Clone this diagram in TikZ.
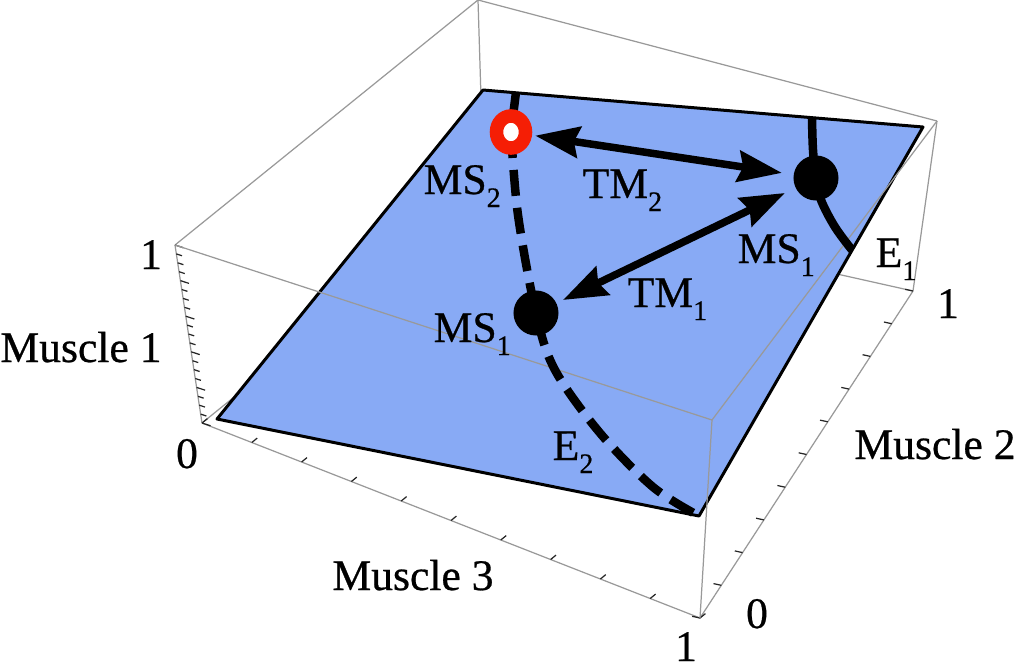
\documentclass[tikz,border=0pt]{standalone}
\usepackage{fontspec}
\setmainfont{Liberation Serif}
\newfontfamily\lserif{Liberation Serif}[FakeBold=0.6]
\usetikzlibrary{arrows.meta,calc,shapes.geometric}
\definecolor{planeblue}{RGB}{136,170,245}
\definecolor{ringred}{RGB}{245,30,5}
\newcommand{\sbs}[1]{\raisebox{-0.13cm}{\fontsize{8}{8}\selectfont #1}}
\begin{document}
\begin{tikzpicture}[x=0.01cm,y=-0.01cm,
  boxedge/.style={draw=gray!80,line width=0.35pt},
  tickmark/.style={draw=gray!30!black,line width=0.35pt},
  lbl/.style={font=\lserif\fontsize{12.4}{14}\selectfont,inner sep=0pt},
  dot/.style={circle,fill=black,minimum size=0.45cm,inner sep=0pt,outer sep=0pt},
  ring/.style={ellipse,draw=ringred,fill=white,line width=0.135cm,minimum width=0.29cm,minimum height=0.32cm,inner sep=0pt,outer sep=0pt},
  curve/.style={line width=0.085cm},
  tm/.style={line width=0.075cm,{Stealth[length=0.44cm,width=0.31cm,inset=0.05cm]}-{Stealth[length=0.44cm,width=0.31cm,inset=0.05cm]}}
]
\useasboundingbox (0,0) rectangle (1018,666);
% box corners
\coordinate (TL) at (175,245);
\coordinate (TB) at (478,0);
\coordinate (TR) at (937,121);
\coordinate (TF) at (712,420);
\coordinate (BL) at (202,423);
\coordinate (BB) at (484,195);
\coordinate (BR) at (913,291);
\coordinate (BF) at (700,618);
% hidden/back edges
\draw[boxedge] (BL) -- (BB) -- (BR);
\draw[boxedge] (TB) -- (BB);
\draw[boxedge] (TL) -- (TB) -- (TR);
\draw[boxedge] (TL) -- (BL);
\draw[boxedge] (TR) -- (BR);
\draw[boxedge] (BL) -- (BF) -- (BR);
% ticks
\foreach \i in {0,...,20}{
  \pgfmathsetmacro\L{ifthenelse(mod(\i,4)==0,9,6)}
  \draw[tickmark] ($(BL)!\i/20!(TL)$) -- ++(0.951*\L,0.31*\L);
}
\foreach \i in {0,...,10}{
  \draw[tickmark] ($(BL)!\i/10!(BF)$) -- ++(5.4,-4.4);
  \draw[tickmark] ($(BF)!\i/10!(BR)$) -- ++(-7.8,-1.7);
}
% plane
\filldraw[fill=planeblue,draw=black,line width=0.03cm,line join=round]
  (217,419) -- (483,90) -- (923,127) -- (699,516) -- cycle;
% front edges over plane
\draw[boxedge] (TL) -- (TF) -- (TR);
\draw[boxedge] (TF) -- (BF);
% points
\coordinate (p2) at (511,132);
\coordinate (p1a) at (536,313);
\coordinate (p1b) at (816,178);
% curves
\draw[curve] (516,92) -- (p2);
\draw[curve,dash pattern=on 0.26cm off 0.12cm]
  plot[smooth,tension=0.55] coordinates {(p2) (518,215) (p1a) (555,370) (600,433) (653,487) (699,516)};
\draw[curve]
  plot[smooth,tension=0.6] coordinates {(812,117) (813,150) (p1b) (821,200) (835,227) (852,250)};
% markers
\node[ring] (ms2) at (p2) {};
\node[dot] (ms1a) at (p1a) {};
\node[dot] (ms1b) at (p1b) {};
% arrows
\draw[tm,shorten <=0.1cm,shorten >=0.12cm] (ms2) -- (ms1b);
\draw[tm,shorten <=0.075cm,shorten >=0.12cm] (ms1a) -- (ms1b);
% labels
\node[lbl,anchor=base west] (lms2) at (423,194) {MS\sbs{2}};
\node[lbl,anchor=base west] (ltm2) at (582,198) {TM\sbs{2}};
\node[lbl,anchor=base west] (lms1b) at (737,263) {MS\sbs{1}};
\node[lbl,anchor=base west] (ltm1) at (627,307) {TM\sbs{1}};
\node[lbl,anchor=base west] (lms1a) at (433,342) {MS\sbs{1}};
\node[lbl,anchor=base west] (le2) at (552,460) {E\sbs{2}};
\node[lbl,anchor=base west] (le1) at (875,267) {E\sbs{1}};
% axis labels
\node[lbl,anchor=base] (ax1) at (81,362) {Muscle 1};
\node[lbl,anchor=base] (ax3) at (413,590) {Muscle 3};
\node[lbl,anchor=base] (ax2) at (935,459) {Muscle 2};
\node[lbl,anchor=base] (n1a) at (151,269) {1};
\node[lbl,anchor=base] (n0a) at (187,468) {0};
\node[lbl,anchor=base] (n0b) at (757,628) {0};
\node[lbl,anchor=base] (n1b) at (686,661) {1};
\node[lbl,anchor=base] (n1c) at (948,318) {1};
\end{tikzpicture}
\end{document}
